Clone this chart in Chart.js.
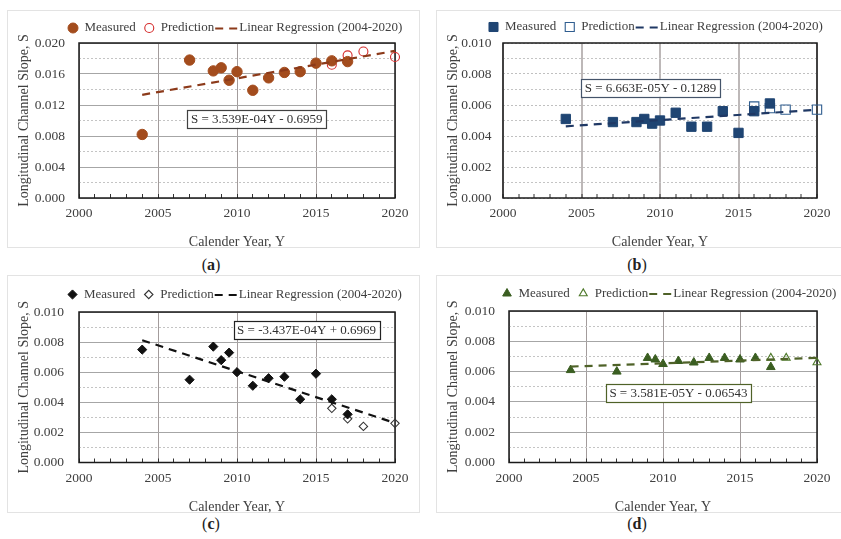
<!DOCTYPE html>
<html>
<head>
<meta charset="utf-8">
<script src="https://cdn.jsdelivr.net/npm/chart.js@4.4.1/dist/chart.umd.min.js"></script>
<style>
  html, body { margin: 0; padding: 0; background: #ffffff; }
  body { width: 841px; height: 539px; position: relative; overflow: hidden; }
  .panel { position: absolute; border: 1px solid #e3e3e3; box-sizing: border-box; }
  .panel canvas { position: absolute; left: -1px; top: -1px; }
  .cap { position: absolute; width: 60px; margin-left: -30px; text-align: center;
         font: 16px "Liberation Serif", serif; color: #222; line-height: 18px; }
</style>
</head>
<body>
<div class="panel" style="left:7px;top:10px;width:413px;height:238px"><canvas id="chartA" width="413" height="238"></canvas></div>
<div class="panel" style="left:436px;top:10px;width:406px;height:238px"><canvas id="chartB" width="406" height="238"></canvas></div>
<div class="panel" style="left:7px;top:275px;width:413px;height:238px"><canvas id="chartC" width="413" height="238"></canvas></div>
<div class="panel" style="left:436px;top:275px;width:406px;height:238px"><canvas id="chartD" width="406" height="238"></canvas></div>
<div class="cap" style="left:211px;top:256px">(<b>a</b>)</div>
<div class="cap" style="left:637px;top:256px">(<b>b</b>)</div>
<div class="cap" style="left:211px;top:515px">(<b>c</b>)</div>
<div class="cap" style="left:637px;top:515px">(<b>d</b>)</div>
<script>
// ---- survey years ----
const measuredYears = [2004, 2007, 2008.5, 2009, 2009.5, 2010, 2011, 2012, 2013, 2014, 2015, 2016, 2017];
const predictionYears = [2016, 2017, 2018, 2020];
const measuredYearsD = [2004, 2007, 2009, 2009.5, 2010, 2011, 2012, 2013, 2014, 2015, 2016, 2017];
const predictionYearsD = [2017, 2018, 2020];
const trendYears = [2004, 2020];
const xTickLabels = [2000, 2005, 2010, 2015, 2020];

// ---- (a) longitudinal channel slope ----
const measuredA = [0.0082, 0.0178, 0.0164, 0.0168, 0.0152, 0.0163, 0.0139, 0.0155, 0.0162, 0.0163, 0.0174, 0.0177, 0.0176];
const predictionA = [0.0172, 0.0184, 0.0189, 0.0182];
const slopeA = 3.539e-4, interceptA = -0.6959;

// ---- (b) ----
const measuredB = [0.0051, 0.0049, 0.0049, 0.0051, 0.0048, 0.0050, 0.0055, 0.0046, 0.0046, 0.0056, 0.0042, 0.0056, 0.0061];
const predictionB = [0.0059, 0.0058, 0.0057, 0.0057];
const slopeB = 6.663e-5, interceptB = -0.1289;

// ---- (c) ----
const measuredC = [0.0075, 0.0055, 0.0077, 0.0068, 0.0073, 0.0060, 0.0051, 0.0056, 0.0057, 0.0042, 0.0059, 0.0042, 0.0032];
const predictionC = [0.0036, 0.0029, 0.0024, 0.0026];
const slopeC = -3.437e-4, interceptC = 0.6969;

// ---- (d) ----
const measuredD = [0.0061, 0.0060, 0.0069, 0.0068, 0.0065, 0.0067, 0.0066, 0.0069, 0.0069, 0.0068, 0.0069, 0.0063];
const predictionD = [0.0069, 0.0069, 0.0066];
const slopeD = 3.581e-5, interceptD = -0.06543;

const SERIF = '"Liberation Serif", "Times New Roman", serif';
const TEXT = '#404040';

function pts(xs, ys) { return xs.map((x, i) => ({ x: x, y: ys[i] })); }
function trend(slope, intercept) { return trendYears.map(y => ({ x: y, y: slope * y + intercept })); }

// marker shapes used in the legend
function drawMarker(ctx, style, x, y, r, fill, stroke, lw) {
  ctx.save();
  ctx.beginPath();
  if (style === 'circle') {
    ctx.arc(x, y, r, 0, Math.PI * 2);
  } else if (style === 'rect') {
    const s = r * Math.SQRT1_2;
    ctx.rect(x - s, y - s, 2 * s, 2 * s);
  } else if (style === 'rectRot') {
    ctx.moveTo(x - r, y); ctx.lineTo(x, y - r); ctx.lineTo(x + r, y); ctx.lineTo(x, y + r); ctx.closePath();
  } else if (style === 'triangle') {
    for (let k = 0; k < 3; k++) {
      const a = k * 2 * Math.PI / 3;
      const px = x + Math.sin(a) * r, py = y - Math.cos(a) * r;
      if (k === 0) ctx.moveTo(px, py); else ctx.lineTo(px, py);
    }
    ctx.closePath();
  }
  if (fill) { ctx.fillStyle = fill; ctx.fill(); }
  if (stroke) { ctx.strokeStyle = stroke; ctx.lineWidth = lw; ctx.stroke(); }
  ctx.restore();
}

// plot frame, legend row and regression equation box
const decorPlugin = {
  id: 'decor',
  beforeDatasetsDraw(chart, args, opts) {
    const a = chart.chartArea, ctx = chart.ctx;
    ctx.save();
    ctx.strokeStyle = '#1a1a1a';
    ctx.lineWidth = 1.5;
    ctx.strokeRect(a.left, a.top, a.right - a.left, a.bottom - a.top);
    ctx.restore();
  },
  afterDraw(chart, args, opts) {
    const ctx = chart.ctx;
    ctx.save();
    ctx.font = '13px ' + SERIF;
    ctx.textBaseline = 'middle';
    ctx.fillStyle = TEXT;
    // legend
    const L = opts.legend;
    let x = L.x;
    const y = L.y;
    L.items.forEach((it, i) => {
      if (it.kind === 'marker') {
        if (i > 0) x += 13.5;
        drawMarker(ctx, it.style, x, y, it.r, it.fill, it.stroke, it.lw);
        x += 11.5;
      } else {
        ctx.save();
        ctx.strokeStyle = it.color;
        ctx.lineWidth = 2.2;
        ctx.setLineDash([8, 6]);
        ctx.beginPath();
        ctx.moveTo(x + 1, y + 0.5);
        ctx.lineTo(x + it.len, y + 0.5);
        ctx.stroke();
        ctx.restore();
        x += it.len;
      }
      ctx.fillStyle = TEXT;
      ctx.textAlign = 'left';
      ctx.fillText(it.text, x, y);
      x += ctx.measureText(it.text).width;
    });
    // regression equation
    const E = opts.equation;
    const cx = chart.scales.x.getPixelForValue(E.x);
    const cy = chart.scales.y.getPixelForValue(E.y);
    const w = ctx.measureText(E.text).width + 7;
    const h = 18;
    ctx.fillStyle = '#ffffff';
    ctx.fillRect(cx - w / 2, cy - h / 2, w, h);
    ctx.strokeStyle = E.border;
    ctx.lineWidth = 1.2;
    ctx.strokeRect(Math.round(cx - w / 2) + 0.5, Math.round(cy - h / 2) + 0.5, Math.round(w), h);
    ctx.fillStyle = '#303030';
    ctx.textAlign = 'center';
    ctx.fillText(E.text, cx, cy + 0.5);
    ctx.restore();
  }
};

function makePanel(id, cfg) {
  const canvas = document.getElementById(id);
  const W = canvas.width, H = canvas.height;
  const A = cfg.area;
  const minorStep = cfg.yMax / 10;
  const isMajor = v => Math.round(v / minorStep) % 2 === 0;
  return new Chart(canvas.getContext('2d'), {
    type: 'scatter',
    data: {
      datasets: [
        {
          type: 'line', label: 'Linear Regression (2004-2020)', data: cfg.trend,
          borderColor: cfg.trendColor, borderWidth: 2.2, borderDash: [8, 6],
          pointRadius: 0, fill: false, tension: 0, order: 0, clip: false
        },
        {
          label: 'Measured', data: cfg.measured, pointStyle: cfg.style,
          pointRadius: cfg.r, backgroundColor: cfg.mColor, borderColor: cfg.mColor,
          borderWidth: 1, order: 1, clip: false
        },
        {
          label: 'Prediction', data: cfg.prediction, pointStyle: cfg.style,
          pointRadius: cfg.rp, backgroundColor: 'rgba(0,0,0,0)', borderColor: cfg.pColor,
          borderWidth: 1.1, order: 2, clip: false
        }
      ]
    },
    options: {
      responsive: false,
      animation: false,
      events: [],
      layout: { padding: { left: 0, top: A.top, right: W - A.right, bottom: 0 } },
      plugins: {
        legend: { display: false },
        tooltip: { enabled: false },
        decor: {
          legend: {
            x: cfg.legendX, y: cfg.legendY,
            items: [
              { kind: 'marker', style: cfg.style, r: cfg.legendR, fill: cfg.mColor, stroke: cfg.mColor, lw: 1, text: 'Measured' },
              { kind: 'marker', style: cfg.style, r: cfg.legendRp, fill: null, stroke: cfg.pColor, lw: 1.1, text: 'Prediction' },
              { kind: 'line', color: cfg.trendColor, len: 25, text: 'Linear Regression (2004-2020)' }
            ]
          },
          equation: cfg.equation
        }
      },
      scales: {
        x: {
          type: 'linear', min: 2000, max: 2020,
          afterFit: s => { s.height = H - A.bottom; },
          ticks: {
            stepSize: 1, autoSkip: false, maxRotation: 0, minRotation: 0, padding: 11.5,
            color: TEXT, font: { family: SERIF, size: 13.5 },
            callback: v => xTickLabels.includes(v) ? String(v) : ''
          },
          grid: {
            color: c => (c.tick && xTickLabels.includes(c.tick.value)) ? cfg.vGrid : 'rgba(0,0,0,0)',
            lineWidth: cfg.vGridWidth,
            tickColor: '#333', tickLength: -4, tickWidth: 1
          },
          border: { display: false },
          title: {
            display: true, text: 'Calender Year, Y', color: TEXT, padding: 0,
            font: { family: SERIF, size: 14, lineHeight: 0.85 }
          }
        },
        y: {
          min: 0, max: cfg.yMax,
          afterFit: s => { s.width = A.left; },
          ticks: {
            stepSize: minorStep, padding: cfg.yPad, autoSkip: false,
            color: TEXT, font: { family: SERIF, size: 13.5 },
            callback: v => isMajor(v) ? v.toFixed(3) : ''
          },
          grid: {
            drawTicks: false,
            color: c => (c.tick && isMajor(c.tick.value)) ? cfg.hMajor : '#c4c4c4',
            lineWidth: 1
          },
          border: {
            display: false,
            dash: c => (c.tick && (!isMajor(c.tick.value) || cfg.allDotted)) ? [2, 2] : []
          },
          title: {
            display: true, text: 'Longitudinal Channel Slope, S', color: TEXT,
            padding: { top: 8.5, bottom: 0 },
            font: { family: SERIF, size: 14, lineHeight: 1.2 }
          }
        }
      }
    },
    plugins: [decorPlugin]
  });
}

makePanel('chartA', {
  area: { left: 72, top: 33, right: 390, bottom: 188 }, yMax: 0.020, yPad: 14,
  measured: pts(measuredYears, measuredA), prediction: pts(predictionYears, predictionA),
  trend: trend(slopeA, interceptA),
  style: 'circle', r: 5.2, rp: 4.5, legendR: 5, legendRp: 4.5,
  mColor: '#a34c1d', pColor: '#d52b2b', trendColor: '#8c3a1a',
  vGrid: '#a39c9c', vGridWidth: 1, hMajor: '#a6a6a6', allDotted: false,
  legendX: 66, legendY: 18,
  equation: { text: 'S = 3.539E-04Y - 0.6959', x: 2011.25, y: 0.01022, border: '#404040' }
});

makePanel('chartB', {
  area: { left: 67, top: 33, right: 391, bottom: 188 }, yMax: 0.010, yPad: 11.5,
  measured: pts(measuredYears, measuredB), prediction: pts(predictionYears, predictionB),
  trend: trend(slopeB, interceptB),
  style: 'rect', r: 6.6, rp: 6.6, legendR: 6.4, legendRp: 6.4,
  mColor: '#1f4573', pColor: '#2f5d8f', trendColor: '#1f3864',
  vGrid: '#bdb8b8', vGridWidth: 2, hMajor: '#c0c0c0', allDotted: true,
  legendX: 57.5, legendY: 17,
  equation: { text: 'S = 6.663E-05Y - 0.1289', x: 2009.4, y: 0.00711, border: '#44546a' }
});

makePanel('chartC', {
  area: { left: 72, top: 37, right: 390, bottom: 187.5 }, yMax: 0.010, yPad: 15,
  measured: pts(measuredYears, measuredC), prediction: pts(predictionYears, predictionC),
  trend: trend(slopeC, interceptC),
  style: 'rectRot', r: 4.6, rp: 4.2, legendR: 4.6, legendRp: 4.2,
  mColor: '#111111', pColor: '#333333', trendColor: '#111111',
  vGrid: '#a39c9c', vGridWidth: 1, hMajor: '#a6a6a6', allDotted: false,
  legendX: 65.5, legendY: 19.5,
  equation: { text: 'S = -3.437E-04Y + 0.6969', x: 2014.4, y: 0.00878, border: '#222222' }
});

makePanel('chartD', {
  area: { left: 73, top: 36, right: 391, bottom: 187.5 }, yMax: 0.010, yPad: 14,
  measured: pts(measuredYearsD, measuredD), prediction: pts(predictionYearsD, predictionD),
  trend: trend(slopeD, interceptD),
  style: 'triangle', r: 5, rp: 4.6, legendR: 5, legendRp: 4.6,
  mColor: '#3a5e21', pColor: '#4f7a2c', trendColor: '#4f6228',
  vGrid: '#a39c9c', vGridWidth: 1, hMajor: '#a6a6a6', allDotted: false,
  legendX: 71, legendY: 18.5,
  equation: { text: 'S = 3.581E-05Y - 0.06543', x: 2011.0, y: 0.00457, border: '#4f6228' }
});
</script>
</body>
</html>
